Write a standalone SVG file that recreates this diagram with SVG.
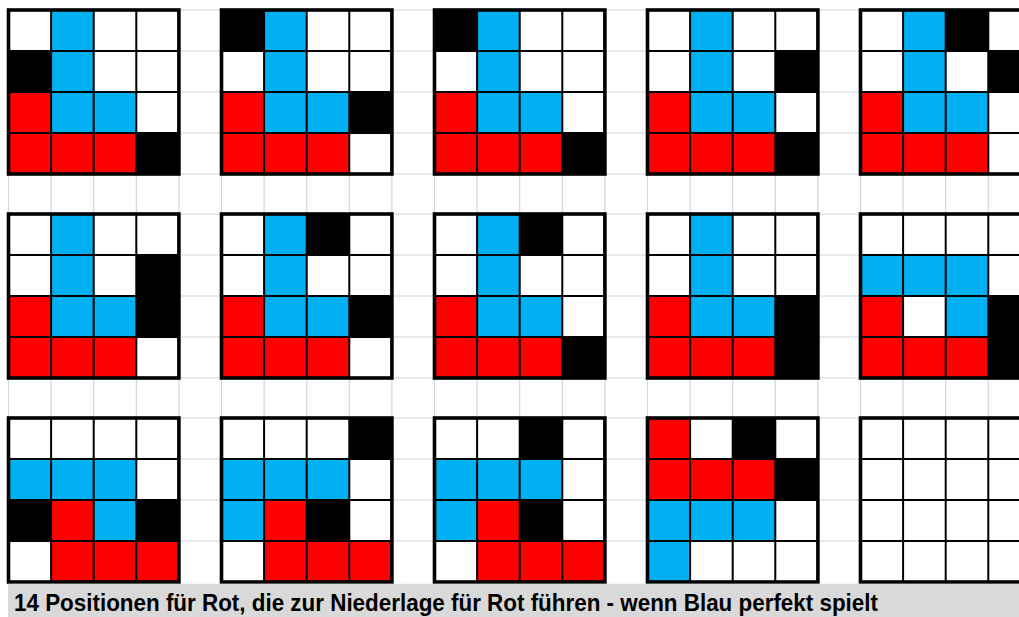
<svg xmlns="http://www.w3.org/2000/svg" xmlns:xlink="http://www.w3.org/1999/xlink" width="1019" height="617" viewBox="0 0 1019 617">
<style>
.b{fill:#00b0f0}.r{fill:#ff0000}.k{fill:#000}
.bg{fill:#fff}
.in{fill:none;stroke:#000;stroke-width:2}
.out{fill:none;stroke:#000;stroke-width:3.6}
.gl{stroke:#cfd6e4;stroke-width:1.2;fill:none}
.cap{font-family:"Liberation Sans",Arial,sans-serif;font-weight:bold;font-size:23px;fill:#000}
</style>
<defs>
<rect id="c" width="42.6" height="41"/>
<g id="frame">
<path class="in" d="M42.6 0V164M85.2 0V164M127.8 0V164M0 41H170.4M0 82H170.4M0 123H170.4"/>
<rect class="out" x="0" y="0" width="170.4" height="164"/>
</g>
</defs>
<rect width="1019" height="617" fill="#fff"/>
<g id="gridlines" class="gl">
<path d="M8.5 10V582M51.1 10V582M93.7 10V582M136.3 10V582M178.9 10V582M221.5 10V582M264.1 10V582M306.7 10V582M349.3 10V582M391.9 10V582M434.5 10V582M477.1 10V582M519.7 10V582M562.3 10V582M604.9 10V582M647.5 10V582M690.1 10V582M732.7 10V582M775.3 10V582M817.9 10V582M860.5 10V582M903.1 10V582M945.7 10V582M988.3 10V582"/>
<path d="M8.5 10H1019M8.5 51H1019M8.5 92H1019M8.5 133H1019M8.5 174H1019M8.5 214H1019M8.5 255H1019M8.5 296H1019M8.5 337H1019M8.5 378H1019M8.5 418H1019M8.5 459H1019M8.5 500H1019M8.5 541H1019"/>
</g>
<g id="board1" transform="translate(8.5,10)">
<rect class="bg" width="170.4" height="164"/>
<use href="#c" class="b" x="42.6" y="0"/>
<use href="#c" class="k" x="0" y="41"/><use href="#c" class="b" x="42.6" y="41"/>
<use href="#c" class="r" x="0" y="82"/><use href="#c" class="b" x="42.6" y="82"/><use href="#c" class="b" x="85.2" y="82"/>
<use href="#c" class="r" x="0" y="123"/><use href="#c" class="r" x="42.6" y="123"/><use href="#c" class="r" x="85.2" y="123"/><use href="#c" class="k" x="127.8" y="123"/>
<use href="#frame"/>
</g>
<g id="board2" transform="translate(221.5,10)">
<rect class="bg" width="170.4" height="164"/>
<use href="#c" class="k" x="0" y="0"/><use href="#c" class="b" x="42.6" y="0"/>
<use href="#c" class="b" x="42.6" y="41"/>
<use href="#c" class="r" x="0" y="82"/><use href="#c" class="b" x="42.6" y="82"/><use href="#c" class="b" x="85.2" y="82"/><use href="#c" class="k" x="127.8" y="82"/>
<use href="#c" class="r" x="0" y="123"/><use href="#c" class="r" x="42.6" y="123"/><use href="#c" class="r" x="85.2" y="123"/>
<use href="#frame"/>
</g>
<g id="board3" transform="translate(434.5,10)">
<rect class="bg" width="170.4" height="164"/>
<use href="#c" class="k" x="0" y="0"/><use href="#c" class="b" x="42.6" y="0"/>
<use href="#c" class="b" x="42.6" y="41"/>
<use href="#c" class="r" x="0" y="82"/><use href="#c" class="b" x="42.6" y="82"/><use href="#c" class="b" x="85.2" y="82"/>
<use href="#c" class="r" x="0" y="123"/><use href="#c" class="r" x="42.6" y="123"/><use href="#c" class="r" x="85.2" y="123"/><use href="#c" class="k" x="127.8" y="123"/>
<use href="#frame"/>
</g>
<g id="board4" transform="translate(647.5,10)">
<rect class="bg" width="170.4" height="164"/>
<use href="#c" class="b" x="42.6" y="0"/>
<use href="#c" class="b" x="42.6" y="41"/><use href="#c" class="k" x="127.8" y="41"/>
<use href="#c" class="r" x="0" y="82"/><use href="#c" class="b" x="42.6" y="82"/><use href="#c" class="b" x="85.2" y="82"/>
<use href="#c" class="r" x="0" y="123"/><use href="#c" class="r" x="42.6" y="123"/><use href="#c" class="r" x="85.2" y="123"/><use href="#c" class="k" x="127.8" y="123"/>
<use href="#frame"/>
</g>
<g id="board5" transform="translate(860.5,10)">
<rect class="bg" width="170.4" height="164"/>
<use href="#c" class="b" x="42.6" y="0"/><use href="#c" class="k" x="85.2" y="0"/>
<use href="#c" class="b" x="42.6" y="41"/><use href="#c" class="k" x="127.8" y="41"/>
<use href="#c" class="r" x="0" y="82"/><use href="#c" class="b" x="42.6" y="82"/><use href="#c" class="b" x="85.2" y="82"/>
<use href="#c" class="r" x="0" y="123"/><use href="#c" class="r" x="42.6" y="123"/><use href="#c" class="r" x="85.2" y="123"/>
<use href="#frame"/>
</g>
<g id="board6" transform="translate(8.5,214)">
<rect class="bg" width="170.4" height="164"/>
<use href="#c" class="b" x="42.6" y="0"/>
<use href="#c" class="b" x="42.6" y="41"/><use href="#c" class="k" x="127.8" y="41"/>
<use href="#c" class="r" x="0" y="82"/><use href="#c" class="b" x="42.6" y="82"/><use href="#c" class="b" x="85.2" y="82"/><use href="#c" class="k" x="127.8" y="82"/>
<use href="#c" class="r" x="0" y="123"/><use href="#c" class="r" x="42.6" y="123"/><use href="#c" class="r" x="85.2" y="123"/>
<use href="#frame"/>
</g>
<g id="board7" transform="translate(221.5,214)">
<rect class="bg" width="170.4" height="164"/>
<use href="#c" class="b" x="42.6" y="0"/><use href="#c" class="k" x="85.2" y="0"/>
<use href="#c" class="b" x="42.6" y="41"/>
<use href="#c" class="r" x="0" y="82"/><use href="#c" class="b" x="42.6" y="82"/><use href="#c" class="b" x="85.2" y="82"/><use href="#c" class="k" x="127.8" y="82"/>
<use href="#c" class="r" x="0" y="123"/><use href="#c" class="r" x="42.6" y="123"/><use href="#c" class="r" x="85.2" y="123"/>
<use href="#frame"/>
</g>
<g id="board8" transform="translate(434.5,214)">
<rect class="bg" width="170.4" height="164"/>
<use href="#c" class="b" x="42.6" y="0"/><use href="#c" class="k" x="85.2" y="0"/>
<use href="#c" class="b" x="42.6" y="41"/>
<use href="#c" class="r" x="0" y="82"/><use href="#c" class="b" x="42.6" y="82"/><use href="#c" class="b" x="85.2" y="82"/>
<use href="#c" class="r" x="0" y="123"/><use href="#c" class="r" x="42.6" y="123"/><use href="#c" class="r" x="85.2" y="123"/><use href="#c" class="k" x="127.8" y="123"/>
<use href="#frame"/>
</g>
<g id="board9" transform="translate(647.5,214)">
<rect class="bg" width="170.4" height="164"/>
<use href="#c" class="b" x="42.6" y="0"/>
<use href="#c" class="b" x="42.6" y="41"/>
<use href="#c" class="r" x="0" y="82"/><use href="#c" class="b" x="42.6" y="82"/><use href="#c" class="b" x="85.2" y="82"/><use href="#c" class="k" x="127.8" y="82"/>
<use href="#c" class="r" x="0" y="123"/><use href="#c" class="r" x="42.6" y="123"/><use href="#c" class="r" x="85.2" y="123"/><use href="#c" class="k" x="127.8" y="123"/>
<use href="#frame"/>
</g>
<g id="board10" transform="translate(860.5,214)">
<rect class="bg" width="170.4" height="164"/>
<use href="#c" class="b" x="0" y="41"/><use href="#c" class="b" x="42.6" y="41"/><use href="#c" class="b" x="85.2" y="41"/>
<use href="#c" class="r" x="0" y="82"/><use href="#c" class="b" x="85.2" y="82"/><use href="#c" class="k" x="127.8" y="82"/>
<use href="#c" class="r" x="0" y="123"/><use href="#c" class="r" x="42.6" y="123"/><use href="#c" class="r" x="85.2" y="123"/><use href="#c" class="k" x="127.8" y="123"/>
<use href="#frame"/>
</g>
<g id="board11" transform="translate(8.5,418)">
<rect class="bg" width="170.4" height="164"/>
<use href="#c" class="b" x="0" y="41"/><use href="#c" class="b" x="42.6" y="41"/><use href="#c" class="b" x="85.2" y="41"/>
<use href="#c" class="k" x="0" y="82"/><use href="#c" class="r" x="42.6" y="82"/><use href="#c" class="b" x="85.2" y="82"/><use href="#c" class="k" x="127.8" y="82"/>
<use href="#c" class="r" x="42.6" y="123"/><use href="#c" class="r" x="85.2" y="123"/><use href="#c" class="r" x="127.8" y="123"/>
<use href="#frame"/>
</g>
<g id="board12" transform="translate(221.5,418)">
<rect class="bg" width="170.4" height="164"/>
<use href="#c" class="k" x="127.8" y="0"/>
<use href="#c" class="b" x="0" y="41"/><use href="#c" class="b" x="42.6" y="41"/><use href="#c" class="b" x="85.2" y="41"/>
<use href="#c" class="b" x="0" y="82"/><use href="#c" class="r" x="42.6" y="82"/><use href="#c" class="k" x="85.2" y="82"/>
<use href="#c" class="r" x="42.6" y="123"/><use href="#c" class="r" x="85.2" y="123"/><use href="#c" class="r" x="127.8" y="123"/>
<use href="#frame"/>
</g>
<g id="board13" transform="translate(434.5,418)">
<rect class="bg" width="170.4" height="164"/>
<use href="#c" class="k" x="85.2" y="0"/>
<use href="#c" class="b" x="0" y="41"/><use href="#c" class="b" x="42.6" y="41"/><use href="#c" class="b" x="85.2" y="41"/>
<use href="#c" class="b" x="0" y="82"/><use href="#c" class="r" x="42.6" y="82"/><use href="#c" class="k" x="85.2" y="82"/>
<use href="#c" class="r" x="42.6" y="123"/><use href="#c" class="r" x="85.2" y="123"/><use href="#c" class="r" x="127.8" y="123"/>
<use href="#frame"/>
</g>
<g id="board14" transform="translate(647.5,418)">
<rect class="bg" width="170.4" height="164"/>
<use href="#c" class="r" x="0" y="0"/><use href="#c" class="k" x="85.2" y="0"/>
<use href="#c" class="r" x="0" y="41"/><use href="#c" class="r" x="42.6" y="41"/><use href="#c" class="r" x="85.2" y="41"/><use href="#c" class="k" x="127.8" y="41"/>
<use href="#c" class="b" x="0" y="82"/><use href="#c" class="b" x="42.6" y="82"/><use href="#c" class="b" x="85.2" y="82"/>
<use href="#c" class="b" x="0" y="123"/>
<use href="#frame"/>
</g>
<g id="board15" transform="translate(860.5,418)">
<rect class="bg" width="170.4" height="164"/>
<use href="#frame"/>
</g>
<g id="caption">
<rect x="8" y="583.8" width="1011" height="33.2" fill="#d9d9d9"/>
<text class="cap" x="14" y="610.5" textLength="864" lengthAdjust="spacingAndGlyphs">14 Positionen für Rot, die zur Niederlage für Rot führen - wenn Blau perfekt spielt</text>
</g>
</svg>
